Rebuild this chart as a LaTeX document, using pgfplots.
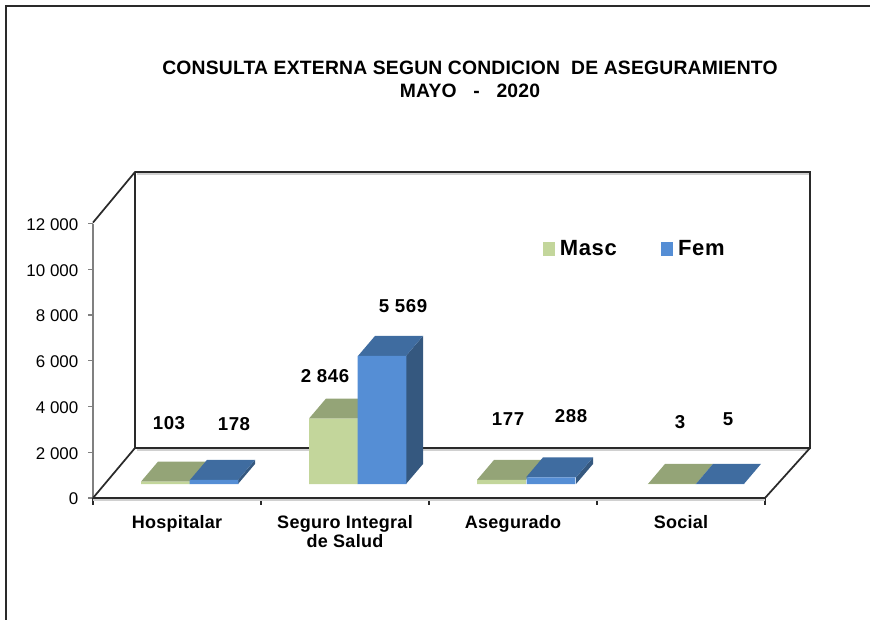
\documentclass[border=0pt]{standalone}
\usepackage{pgfplots}
\usepackage{fontspec}
\setmainfont{Liberation Sans}
\pgfplotsset{compat=1.18}
\definecolor{gf}{HTML}{C3D69B}
\definecolor{gt}{HTML}{94A477}
\definecolor{bf}{HTML}{558ED5}
\definecolor{bt}{HTML}{3F6CA0}
\definecolor{bs}{HTML}{35587F}
\definecolor{dk}{HTML}{2A2A2A}
\definecolor{sh}{HTML}{D0D0D0}
\newcommand{\lab}{\fontsize{13.5pt}{14.2pt}\selectfont\bfseries\addfontfeatures{LetterSpace=1.5}}
\newcommand{\num}{\fontsize{14pt}{14.2pt}\selectfont\bfseries\addfontfeatures{LetterSpace=3}}
\pgfplotsset{
 base/.style={scale only axis,width=504pt,xmin=0,xmax=672,ymin=0,ymax=12000,clip=false},
 top/.style={fill=#1,draw=none,forget plot},
}
\begin{document}
\begin{tikzpicture}
\useasboundingbox (0,0) rectangle (652.5pt,-465pt);
\draw[dk,line width=1.3pt] (4.5pt,-465pt) -- (4.5pt,-4.5pt) -- (652.5pt,-4.5pt);
\begin{axis}[base,height=205.875pt,at={(69.75pt,-373.5pt)},anchor=south west,
  axis x line*=bottom,axis y line*=left,
  x axis line style={-,draw=dk,line width=1.2pt},
  y axis line style={-,draw=gray,line width=1.1pt},
  scaled y ticks=false,scaled x ticks=false,
  xtick={84,252,420,588},
  xticklabels={Hospitalar,{Seguro Integral\\de Salud},Asegurado,Social},
  x tick label style={align=center,font=\lab,yshift=-6pt},
  major x tick style={draw=none},
  extra x ticks={0,168,336,504,672},
  extra x tick labels={},
  extra x tick style={major x tick style={draw=dk,line width=.9pt},major tick length=5pt,tick align=outside},
  ytick={0,2000,4000,6000,8000,10000,12000},
  yticklabels={0,2 000,4 000,6 000,8 000,10 000,12 000},
  y tick label style={font=\fontsize{12.7pt}{14pt}\selectfont,xshift=-4pt,yshift=-.75pt},
  major y tick style={draw=gray,line width=.8pt},
  tick align=outside,major tick length=3.5pt,
]
\addplot[draw=sh,line width=1.2pt,forget plot] coordinates {(44,14165)(717,14165)};
\addplot[draw=sh,line width=1.2pt,forget plot] coordinates {(44,2100)(715,2100)};
\addplot[draw=sh,line width=1.2pt,forget plot] coordinates {(0,-90)(672,-90)};
\addplot[draw=dk,line width=1.3pt,forget plot] coordinates {(0,12040)(42,14251)(717,14251)(717,2186)(42,2186)(42,14251)};
\addplot[draw=dk,line width=1.3pt,forget plot] coordinates {(0,0)(42,2186)};
\addplot[draw=dk,line width=1.3pt,forget plot] coordinates {(672,0)(717,2186)};
\end{axis}
\begin{axis}[base,height=207pt,at={(69.75pt,-363pt)},anchor=south west,hide axis,
  legend style={draw=none,fill=none,at={(axis cs:543.25,10210)},anchor=center,legend columns=2,
    font=\fontsize{16.5pt}{17pt}\selectfont\bfseries\addfontfeatures{LetterSpace=3},
    nodes={inner xsep=4pt},
    /tikz/every even column/.append style={column sep=28.9pt}},
  legend image code/.code={\fill[#1] (0pt,-5pt) rectangle (9pt,5.5pt);},
]
% Hospitalar
\addplot[top=bs] coordinates {(145,0)(162,870)(162,1048)(145,178)} --cycle;
\addplot[top=gt] coordinates {(48,103)(97,103)(114,973)(65,973)} --cycle;
\addplot[top=bt] coordinates {(97,178)(145,178)(162,1048)(114,1048)} --cycle;
% Seguro
\addplot[top=gt] coordinates {(216,2846)(265,2846)(282,3716)(233,3716)} --cycle;
\addplot[top=bs] coordinates {(313,0)(330,870)(330,6439)(313,5569)} --cycle;
\addplot[top=bt] coordinates {(265,5569)(313,5569)(330,6439)(282,6439)} --cycle;
% Asegurado
\addplot[top=bs] coordinates {(483,0)(500,870)(500,1158)(483,288)} --cycle;
\addplot[top=gt] coordinates {(384,177)(433,177)(450,1047)(401,1047)} --cycle;
\addplot[top=bt] coordinates {(433,288)(483,288)(500,1158)(450,1158)} --cycle;
% Social
\addplot[top=gt] coordinates {(555,3)(603,3)(620,873)(572,873)} --cycle;
\addplot[top=bt] coordinates {(603,5)(651,5)(668,875)(620,875)} --cycle;
% front faces
\addplot[ybar,bar width=48.7,bar shift=0pt,fill=gf,draw=none] coordinates {(72.5,103)(240.5,2846)(408.5,177)(579,3)};
\addlegendentry{Masc}
\addplot[ybar,bar width=48.7,bar shift=0pt,fill=bf,draw=none] coordinates {(121,178)(289,5569)(458,288)(627,5)};
\addlegendentry{Fem}
\end{axis}
\begin{scope}[x=.75pt,y=-.75pt]
\node[font=\fontsize{14.5pt}{17.25pt}\selectfont\bfseries\addfontfeatures{LetterSpace=1},align=center] at (470,79.5) {CONSULTA EXTERNA SEGUN CONDICION\ \ DE ASEGURAMIENTO\\MAYO\ \ \ -\ \ \ 2020};
\foreach \x/\y/\t in {169/423/103,234/424/178,325/376/2 846,403/306/5 569,508/419/177,571/416/288,680/422/3,728/419/5}
  \node[font=\num] at (\x,\y) {\t};
\end{scope}
\end{tikzpicture}
\end{document}
